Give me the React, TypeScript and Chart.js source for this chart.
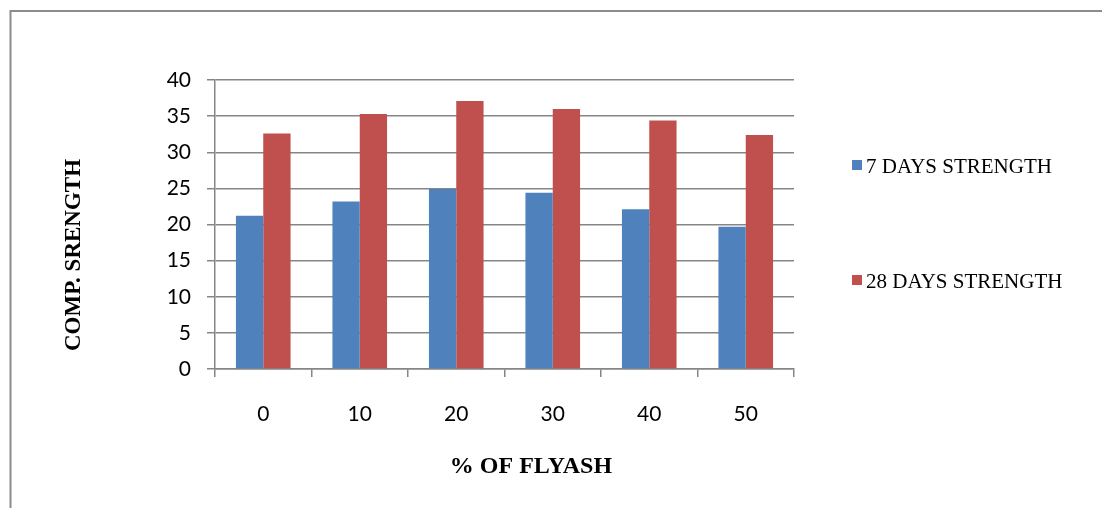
import { useEffect, useRef } from "react";
import { Chart, registerables } from "chart.js";

Chart.register(...registerables);

// Fly ash replacement levels (%)
const flyashPercent = ["0", "10", "20", "30", "40", "50"];
// Compressive strength (MPa)
const strength7Days = [21.2, 23.2, 24.9, 24.4, 22.1, 19.7];
const strength28Days = [32.6, 35.3, 37.1, 36.0, 34.4, 32.4];

const seriesLabels = ["7 DAYS STRENGTH", "28 DAYS STRENGTH"];
const seriesColors = ["#4F81BD", "#C0504D"];

const yMin = 0;
const yMax = 40;
const yStep = 5;

const xAxisTitle = "% OF FLYASH";
const yAxisTitle = "COMP. SRENGTH";

const W = 1102;
const H = 508;
const gridColor = "#868686";

// Outer frame: top and left rules of the chart box
const framePlugin = {
  id: "frame",
  beforeDraw(chart: any) {
    const ctx = chart.ctx;
    ctx.save();
    ctx.strokeStyle = "#8c8c8c";
    ctx.lineWidth = 2;
    ctx.beginPath();
    ctx.moveTo(10.5, H);
    ctx.lineTo(10.5, 11);
    ctx.lineTo(W, 11);
    ctx.stroke();
    ctx.restore();
  },
};

// Axis titles and the stacked legend on the right
const annotationsPlugin = {
  id: "annotations",
  afterDraw(chart: any) {
    const ctx = chart.ctx;
    ctx.save();
    ctx.fillStyle = "#000";
    ctx.textAlign = "center";
    ctx.textBaseline = "middle";
    ctx.font = "bold 24px 'Liberation Serif'";
    ctx.fillText(xAxisTitle, 531, 467);

    ctx.font = "bold 23px 'Liberation Serif'";
    ctx.translate(74, 255);
    ctx.rotate(-Math.PI / 2);
    ctx.fillText(yAxisTitle, 0, 0);
    ctx.restore();

    ctx.save();
    ctx.font = "21px 'Liberation Serif'";
    ctx.textAlign = "left";
    ctx.textBaseline = "alphabetic";
    const rows = [173, 288];
    chart.data.datasets.forEach((ds: any, i: number) => {
      const base = rows[i];
      ctx.fillStyle = ds.backgroundColor;
      ctx.fillRect(852, base - 13, 10, 10);
      ctx.fillStyle = "#000";
      ctx.fillText(ds.label, 866, base);
    });
    ctx.restore();
  },
};

export default function App() {
  const canvasRef = useRef<HTMLCanvasElement | null>(null);

  useEffect(() => {
    const canvas = canvasRef.current;
    if (!canvas) return;
    const chart = new Chart(canvas, {
      type: "bar",
      data: {
        labels: flyashPercent,
        datasets: [
          {
            label: seriesLabels[0],
            data: strength7Days,
            backgroundColor: seriesColors[0],
            borderWidth: 0,
          },
          {
            label: seriesLabels[1],
            data: strength28Days,
            backgroundColor: seriesColors[1],
            borderWidth: 0,
          },
        ],
      },
      options: {
        animation: false,
        responsive: false,
        devicePixelRatio: 1,
        datasets: {
          bar: { categoryPercentage: 0.566, barPercentage: 1 },
        },
        layout: {
          padding: { top: 80, left: 0, right: W - 794, bottom: 508 - 369 - 60 },
        },
        plugins: {
          legend: { display: false },
          tooltip: { enabled: false },
          title: { display: false },
        },
        scales: {
          x: {
            offset: true,
            grid: {
              display: true,
              drawOnChartArea: false,
              drawTicks: true,
              tickLength: 8,
              color: gridColor,
              lineWidth: 1.5,
              offset: true,
            },
            border: { display: true, color: gridColor, width: 1.5 },
            ticks: {
              color: "#000",
              padding: 25,
              font: { family: "Lato", size: 21 },
              maxRotation: 0,
            },
            afterFit(scale: any) {
              scale.height = 60;
            },
          },
          y: {
            min: yMin,
            max: yMax,
            ticks: {
              stepSize: yStep,
              color: "#000",
              padding: 16,
              font: { family: "Lato", size: 21 },
            },
            grid: {
              color: gridColor,
              lineWidth: 1.5,
              tickLength: 8,
              drawTicks: true,
            },
            border: { display: true, color: gridColor, width: 1.5 },
            afterFit(scale: any) {
              scale.width = 215;
            },
          },
        },
      },
      plugins: [framePlugin, annotationsPlugin],
    });
    return () => chart.destroy();
  }, []);

  return (
    <div style={{ position: "absolute", left: 0, top: 0, width: W, height: H, background: "#fff" }}>
      <canvas ref={canvasRef} width={W} height={H} style={{ display: "block", width: W, height: H }} />
    </div>
  );
}
